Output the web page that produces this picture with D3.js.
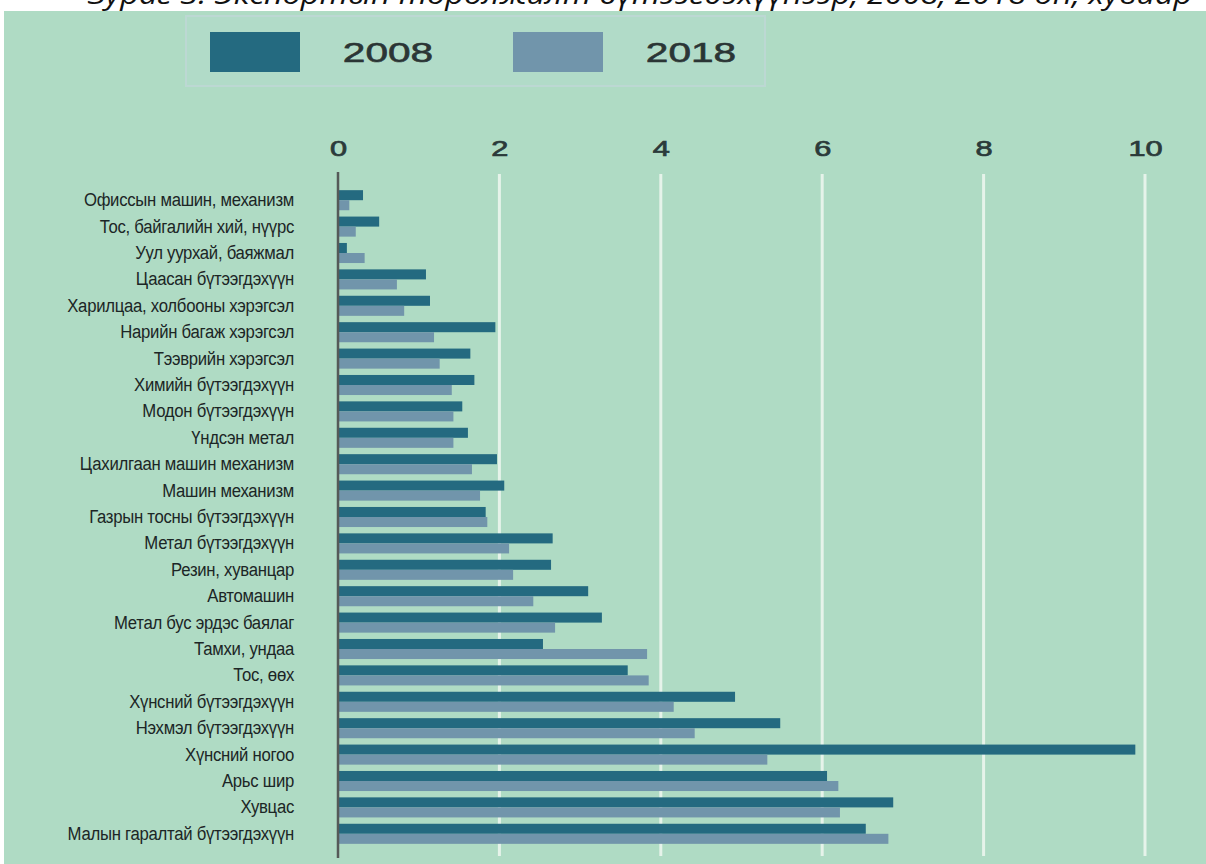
<!DOCTYPE html>
<html>
<head>
<meta charset="utf-8">
<script src="https://cdn.jsdelivr.net/npm/d3@7"></script>
<style>
  html, body { margin: 0; padding: 0; background: #ffffff; }
  svg { display: block; }
</style>
</head>
<body>
<svg id="chart" width="1206" height="864"></svg>
<script>
// ---- data ----
const categories = [
  "Офиссын машин, механизм",
  "Тос, байгалийн хий, нүүрс",
  "Уул уурхай, баяжмал",
  "Цаасан бүтээгдэхүүн",
  "Харилцаа, холбооны хэрэгсэл",
  "Нарийн багаж хэрэгсэл",
  "Тээврийн хэрэгсэл",
  "Химийн бүтээгдэхүүн",
  "Модон бүтээгдэхүүн",
  "Үндсэн метал",
  "Цахилгаан машин механизм",
  "Машин механизм",
  "Газрын тосны бүтээгдэхүүн",
  "Метал бүтээгдэхүүн",
  "Резин, хуванцар",
  "Автомашин",
  "Метал бус эрдэс  баялаг",
  "Тамхи, ундаа",
  "Тос, өөх",
  "Хүнсний бүтээгдэхүүн",
  "Нэхмэл бүтээгдэхүүн",
  "Хүнсний ногоо",
  "Арьс шир",
  "Хувцас",
  "Малын гаралтай бүтээгдэхүүн"
];
const values2008 = [0.31, 0.51, 0.11, 1.09, 1.14, 1.95, 1.64, 1.69, 1.54, 1.61, 1.97, 2.06, 1.83,
                    2.66, 2.64, 3.10, 3.27, 2.54, 3.59, 4.92, 5.48, 9.88, 6.06, 6.88, 6.54];
const values2018 = [0.14, 0.22, 0.33, 0.73, 0.82, 1.19, 1.26, 1.41, 1.43, 1.43, 1.66, 1.76, 1.85,
                    2.12, 2.17, 2.42, 2.69, 3.83, 3.85, 4.16, 4.42, 5.32, 6.20, 6.22, 6.82];
const seriesNames = ["2008", "2018"];
const tickValues = [0, 2, 4, 6, 8, 10];
const titleText = "Зураг 3. Экспортын төрөлжилт бүтээгдэхүүнээр, 2008, 2018 он, хувиар";

// ---- styles ----
const colors = { "2008": "#246a80", "2018": "#7195ab" };
const bg = "#afdbc4";
const sans = "'Liberation Sans', Arial, sans-serif";

const svg = d3.select("#chart");

// title line (clipped by the top edge, as in the source image)
svg.append("text")
  .attr("transform", "translate(640,4) scale(1.2,1)")
  .attr("text-anchor", "middle")
  .attr("font-family", "'Open Sans', 'Noto Sans', sans-serif")
  .attr("font-style", "italic")
  .attr("font-size", 27)
  .attr("fill", "#111")
  .text(titleText);

// background panel
svg.append("rect")
  .attr("x", 4).attr("y", 11)
  .attr("width", 1202).attr("height", 853)
  .attr("fill", bg);

// scales
const x = d3.scaleLinear().domain([0, 10]).range([338, 1145]);
const y = d3.scaleBand().domain(categories).range([187, 847])
  .paddingInner(0.24).paddingOuter(0.12);
const ySub = d3.scaleBand().domain(seriesNames).range([0, y.bandwidth()]);

// gridlines
svg.append("g").selectAll("line")
  .data(tickValues.filter(d => d > 0))
  .join("line")
  .attr("x1", d => x(d)).attr("x2", d => x(d))
  .attr("y1", 174).attr("y2", 856)
  .attr("stroke", "#e6f3ea").attr("stroke-width", 3);

// top axis labels
const axis = d3.axisTop(x).tickValues(tickValues).tickSize(0).tickPadding(0)
  .tickFormat(d3.format("d"));
const gAxis = svg.append("g").attr("transform", "translate(0,156)").call(axis);
gAxis.select(".domain").remove();
gAxis.selectAll("text")
  .attr("transform", "scale(1.4,1)")
  .attr("font-family", sans)
  .attr("font-size", 22)
  .attr("fill", "#2b3a3a")
  .attr("stroke", "#2b3a3a")
  .attr("stroke-width", 0.7);

// bars
const groups = svg.append("g").selectAll("g")
  .data(categories.map((c, i) => ({ c, vals: [
    { s: "2008", v: values2008[i] }, { s: "2018", v: values2018[i] } ] })))
  .join("g")
  .attr("transform", d => `translate(0,${y(d.c)})`);
groups.selectAll("rect")
  .data(d => d.vals)
  .join("rect")
  .attr("x", x(0))
  .attr("y", d => ySub(d.s))
  .attr("width", d => x(d.v) - x(0))
  .attr("height", ySub.bandwidth())
  .attr("fill", d => colors[d.s]);

// vertical axis line
svg.append("line")
  .attr("x1", x(0)).attr("x2", x(0))
  .attr("y1", 172).attr("y2", 858)
  .attr("stroke", "#555a58").attr("stroke-width", 2.5);

// category labels
svg.append("g").selectAll("text")
  .data(categories)
  .join("text")
  .attr("transform", d => `translate(294,${y(d) + y.bandwidth() / 2 + 6}) scale(0.88,1)`)
  .attr("text-anchor", "end")
  .attr("font-family", sans)
  .attr("font-size", 19)
  .attr("letter-spacing", -0.3)
  .attr("fill", "#1c2626")
  .text(d => d);

// legend
const lg = svg.append("g");
lg.append("rect")
  .attr("x", 186).attr("y", 16).attr("width", 579).attr("height", 70)
  .attr("fill", "#b1dbc8").attr("stroke", "#bcd8d3").attr("stroke-width", 2);
const legendX = { "2008": 210, "2018": 513 };
seriesNames.forEach(s => {
  lg.append("rect")
    .attr("x", legendX[s]).attr("y", 32).attr("width", 90).attr("height", 40)
    .attr("fill", colors[s]);
  lg.append("text")
    .attr("transform", `translate(${legendX[s] + 178},62) scale(1.45,1)`)
    .attr("text-anchor", "middle")
    .attr("font-family", sans)
    .attr("font-size", 28)
    .attr("fill", "#2b3535")
    .attr("stroke", "#2b3535")
    .attr("stroke-width", 0.6)
    .text(s);
});
</script>
</body>
</html>
